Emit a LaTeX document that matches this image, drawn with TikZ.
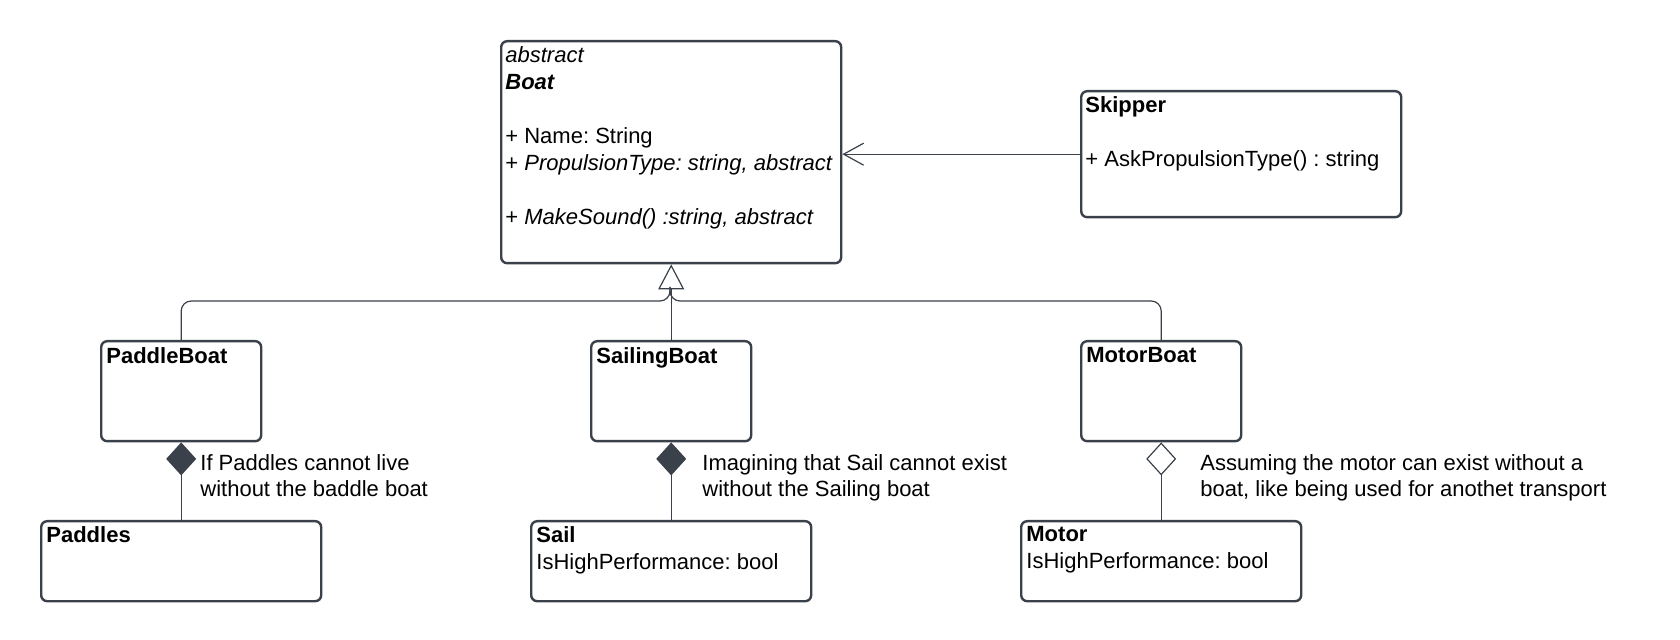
\documentclass[tikz,border=0pt]{standalone}
\usepackage{fontspec}
\setmainfont{Liberation Sans}
\usetikzlibrary{positioning,arrows.meta}
\definecolor{umlgray}{HTML}{3A414A}
\frenchspacing

\begin{document}
\begin{tikzpicture}[x=0.5pt,y=-0.5pt,
  umlbox/.style={draw=umlgray,line width=1.2pt,rounded corners=3pt,anchor=north west,inner sep=0pt},
  boxtext/.style={anchor=north west,inner sep=0pt,align=left,font=\fontsize{11}{13.5}\selectfont},
  note/.style={anchor=north west,inner sep=0pt,align=left,font=\fontsize{11}{13}\selectfont},
  link/.style={draw=umlgray,line width=0.6pt},
  composed/.style={link,{Diamond[length=16.5pt,width=15pt,fill=umlgray]}-},
  aggregated/.style={link,{Diamond[open,length=16.5pt,width=15pt,fill=white]}-},
  inherits/.style={link,-{Triangle[open,length=12.5pt,width=13pt,fill=white]}},
  uses/.style={link,-{Straight Barb[length=10pt,width=11pt]}}]

\useasboundingbox (0,0) rectangle (1680,640);

\node [umlbox,minimum width=170pt,minimum height=111pt] at (500,40) (boat) {};
\node [boxtext] at (505,46) (boattext) {\textit{abstract}\\\textbf{\textit{Boat}}\\[13.5pt]+ Name: String\\+ \textit{PropulsionType: string, abstract}\\[13.5pt]+ \textit{MakeSound() :string, abstract}};

\node [umlbox,minimum width=160pt,minimum height=63pt] at (1080,90) (skipper) {};
\node [boxtext] at (1085,96) (skippertext) {\textbf{Skipper}\\[13.5pt]+ AskPropulsionType() : string};

\node [umlbox,minimum width=80pt,minimum height=50pt] at (100,340) (paddleboat) {};
\node [boxtext] at (106,347) (paddleboattext) {\textbf{PaddleBoat}};
\node [umlbox,minimum width=80pt,minimum height=50pt] at (590,340) (sailingboat) {};
\node [boxtext] at (596,347) (sailingboattext) {\textbf{SailingBoat}};
\node [umlbox,minimum width=80pt,minimum height=50pt] at (1080,340) (motorboat) {};
\node [boxtext] at (1086,347) (motorboattext) {\textbf{MotorBoat}};

\node [umlbox,minimum width=140pt,minimum height=40pt] at (40,520) (paddles) {};
\node [boxtext] at (46,526) (paddlestext) {\textbf{Paddles}};
\node [umlbox,minimum width=140pt,minimum height=40pt] at (530,520) (sail) {};
\node [boxtext] at (536,526) (sailtext) {\textbf{Sail}\\IsHighPerformance: bool};
\node [umlbox,minimum width=140pt,minimum height=40pt] at (1020,520) (motor) {};
\node [boxtext] at (1026,526) (motortext) {\textbf{Motor}\\IsHighPerformance: bool};

\coordinate (bus) at (670,301);
\coordinate (tribase) at (670,287);

\draw [inherits] (sailingboat.north) -- (boat.south);
\draw [link,rounded corners=5pt] (paddleboat.north) |- (bus) -- (tribase);
\draw [link,rounded corners=5pt] (motorboat.north) |- (bus) -- (tribase);

\draw [uses] (skipper.west) -- (skipper.west -| boat.east);

\draw [composed] (paddleboat.south) -- (paddles.north);
\draw [composed] (sailingboat.south) -- (sail.north);
\draw [aggregated] (motorboat.south) -- (motor.north);

\node [note] at (200,454) (paddlesnote) {If Paddles cannot live\\without the baddle boat};
\node [note] at (702,454) (sailnote) {Imagining that Sail cannot exist\\without the Sailing boat};
\node [note] at (1200,454) (motornote) {Assuming the motor can exist without a\\boat, like being used for anothet transport};

\end{tikzpicture}
\end{document}
